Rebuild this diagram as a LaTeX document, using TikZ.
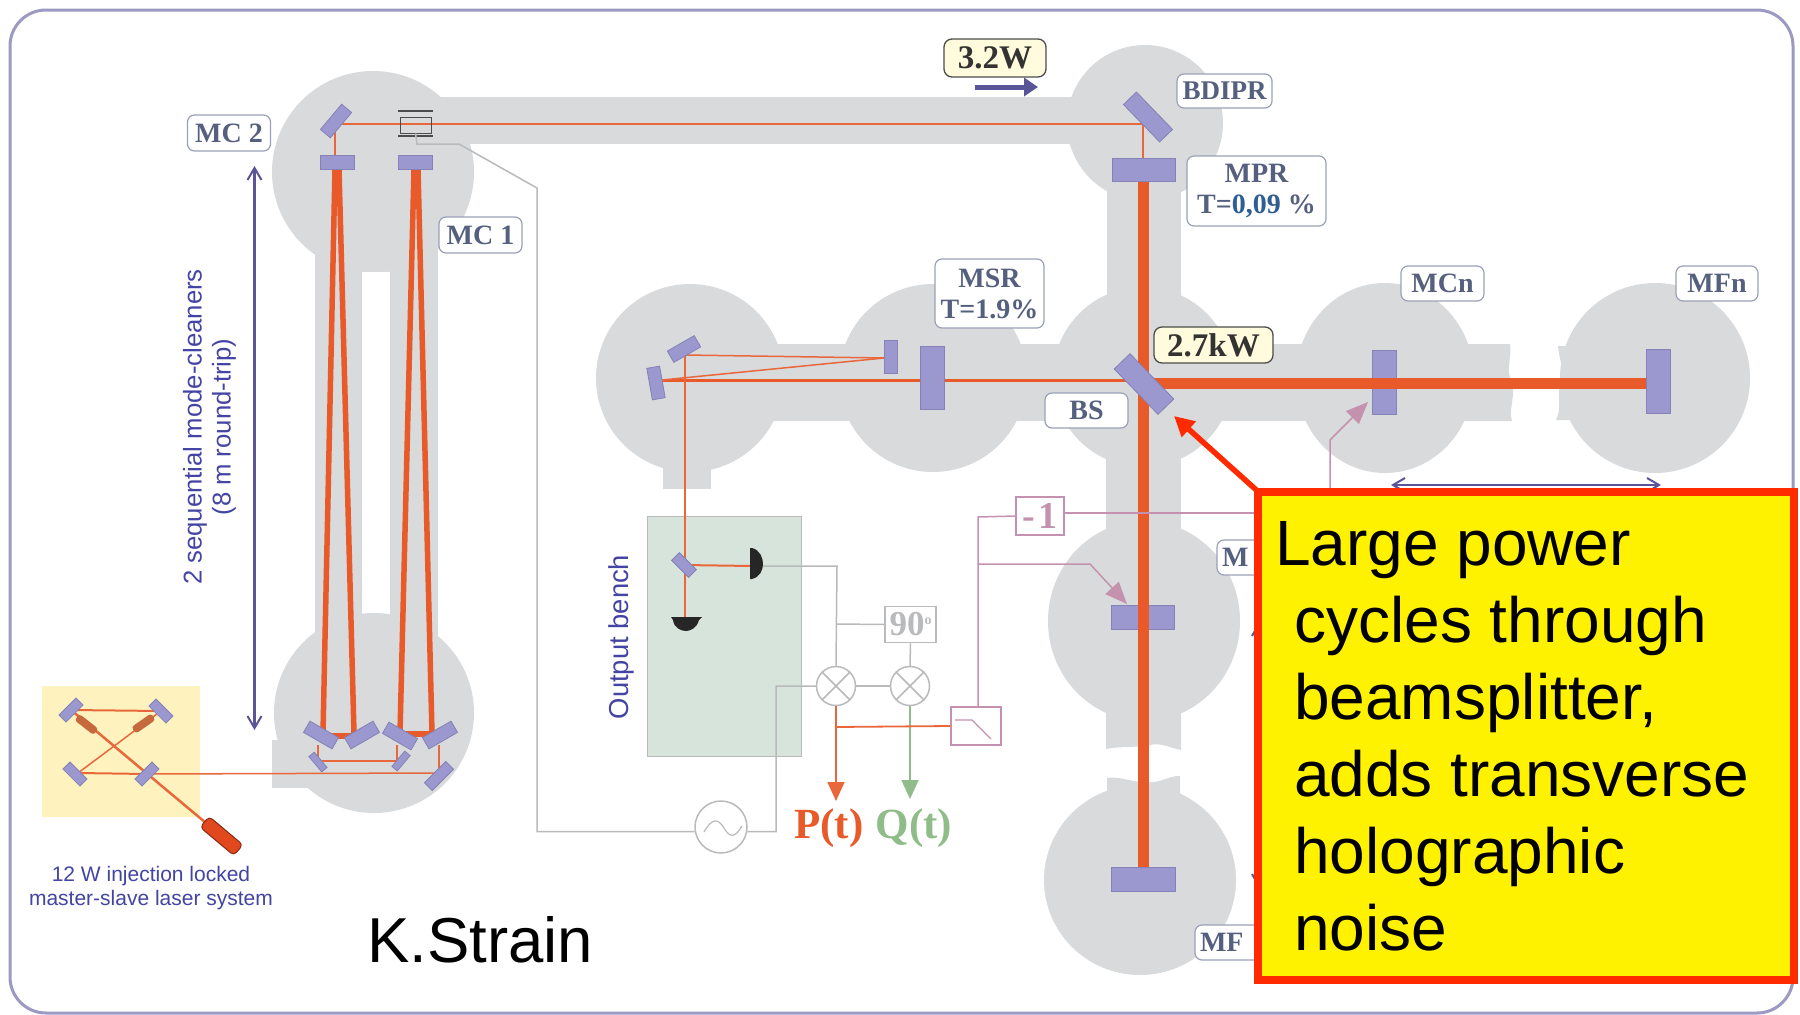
\documentclass[tikz,border=0pt]{standalone}
\usepackage{fontspec}
\setmainfont{Liberation Sans}
\newfontfamily\lab[Ligatures=TeX]{Liberation Serif}
\usetikzlibrary{arrows.meta,shapes.geometric}
\pgfdeclarelayer{blob}\pgfdeclarelayer{low}\pgfdeclarelayer{beam}
\pgfsetlayers{blob,low,beam,main}
\definecolor{pipegrey}{HTML}{D8DADC}
\definecolor{mirrorc}{HTML}{9A98CE}
\definecolor{mirrord}{HTML}{8482B6}
\definecolor{beamc}{HTML}{E85A2A}
\definecolor{labt}{HTML}{55607F}
\definecolor{labd}{HTML}{9AA0B8}
\definecolor{framec}{HTML}{9C9AC2}
\definecolor{purp}{HTML}{5A5599}
\definecolor{bluet}{HTML}{4444A4}
\definecolor{pinkc}{HTML}{C492AE}
\definecolor{greyl}{HTML}{B8BABC}
\definecolor{greenl}{HTML}{8FBC88}
\definecolor{redl}{HTML}{E8683C}
\definecolor{calred}{HTML}{FF2A00}
\definecolor{benchc}{HTML}{D6E4DC}
\definecolor{tablec}{HTML}{FEF3BE}
\definecolor{pwrfill}{HTML}{FFFBDC}
\definecolor{brownc}{HTML}{C66A3E}
\definecolor{laserc}{HTML}{E2481E}
\definecolor{numblue}{HTML}{2F5E93}
\tikzset{
  x=1pt,y=-1pt,
  fs/.style={font=\fontsize{#1}{#1}\selectfont},
  mir/.style n args={2}{draw=mirrord,fill=mirrorc,line width=0.8,inner sep=0,minimum width=#1,minimum height=#2},
  lbl/.style n args={2}{draw=labd,line width=1.2,rounded corners=7,fill=white,text=labt,inner sep=0,minimum width=#1,minimum height=#2,align=center,font=\lab\bfseries\fontsize{28}{31}\selectfont},
  pwr/.style n args={2}{draw=black!70,line width=1.3,rounded corners=8,fill=pwrfill,text=black!80,inner sep=0,minimum width=#1,minimum height=#2,font=\lab\bfseries\fontsize{33}{33}\selectfont},
  beamT/.style={draw=beamc,line width=11},
  beamL/.style={draw=beamc,line width=5.5},
  beamM/.style={draw=beamc,line width=3},
  beamS/.style={draw=redl,line width=1.5},
  sig/.style={draw=greyl,line width=1.5},
  pnk/.style={draw=pinkc,line width=1.5},
  sbox/.style={draw=#1,line width=1.5,fill=white,inner sep=0},
  mixer/.style={circle,draw=greyl,line width=1.5,fill=white,minimum size=39,inner sep=0},
  dim/.style={draw=purp,line width=2.2,{Straight Barb[length=12,width=14,line width=2]}-{Straight Barb[length=12,width=14,line width=2]}},
  btext/.style={text=bluet,align=center,inner sep=0},
  bighead/.style={-{Stealth[length=19,width=17,inset=0]}},
}
\begin{document}
\begin{tikzpicture}
\useasboundingbox (0,0) rectangle (1800,1015);

% ---------- grey vacuum system
\begin{pgfonlayer}{blob}
\fill[white] (0,0) rectangle (1800,1015);
\draw[framec,line width=3,rounded corners=36] (10,10) rectangle (1793,1013);
\fill[pipegrey] (373,172) circle[radius=101];
\fill[pipegrey] (374,713) circle[radius=100];
\fill[pipegrey] (315,240) rectangle (362,640);
\fill[pipegrey] (390,240) rectangle (438,640);
\fill[white] (362,272) rectangle (390,613);
\fill[pipegrey] (272,740) rectangle (320,788);
\fill[pipegrey] (430,97) rectangle (1120,144);
\fill[pipegrey] (1145,123) circle[radius=78];
\fill[pipegrey] (1107,170) rectangle (1181,300);
\fill[pipegrey] (1143,377) circle[radius=90];
\fill[pipegrey] (690,378) circle[radius=94];
\fill[pipegrey] (663,440) rectangle (711,489);
\fill[pipegrey] (933,378) circle[radius=94];
\fill[pipegrey] (700,344) rectangle (1385,421);
\fill[pipegrey] (1385,378) ellipse[x radius=89,y radius=95];
\fill[pipegrey] (1380,344) -- (1510,344) .. controls (1512,360) and (1505,370) .. (1512,382)
   .. controls (1516,395) and (1508,410) .. (1512,421) -- (1380,421) -- cycle;
\fill[pipegrey] (1655,378) ellipse[x radius=95,y radius=95];
\fill[pipegrey] (1660,346) -- (1558,346) .. controls (1560,365) and (1566,372) .. (1560,385)
   .. controls (1557,400) and (1562,408) .. (1556,420) -- (1660,420) -- cycle;
\fill[pipegrey] (1144,621) ellipse[x radius=96,y radius=100];
\fill[pipegrey] (1106,440) rectangle (1181,560);
\fill[pipegrey] (1106,680) -- (1181,680) -- (1181,750) .. controls (1170,748) and (1160,742) .. (1150,745)
   .. controls (1135,748) and (1120,746) .. (1106,749) -- cycle;
\fill[pipegrey] (1140,880) ellipse[x radius=96,y radius=95];
\fill[pipegrey] (1107,860) -- (1107,778) .. controls (1120,776) and (1130,782) .. (1145,782)
   .. controls (1160,784) and (1170,775) .. (1180,776) -- (1180,860) -- cycle;
\fill[tablec] (42,686) rectangle (200,817);
\end{pgfonlayer}

% ---------- output bench, and the mirrors that the beam crosses on top
\begin{pgfonlayer}{low}
\node[draw=greyl,line width=1,fill=benchc,inner sep=0,minimum width=154,minimum height=240] (bench) at (724,636) {};
\node[mir={24}{64}] (mcn) at (1384,382) {};
\node[mir={63}{24}] (mce) at (1143,617) {};
\end{pgfonlayer}

% ---------- mirrors
\node[mir={33}{13},rotate=50] (mc2t) at (336,121) {};
\node[mir={34}{14}] (mc2l) at (337,162) {};
\node[mir={34}{14}] (mc1r) at (415,162) {};
\node[mir={33}{13},rotate=-30] (ba) at (321,735) {};
\node[mir={33}{13},rotate=30] (bb) at (362,735) {};
\node[mir={33}{13},rotate=-30] (bc) at (400,736) {};
\node[mir={33}{13},rotate=30] (bd) at (440,735) {};
\node[mir={20}{7},rotate=-50] (se) at (318,762) {};
\node[mir={20}{7},rotate=50] (sf) at (401,761) {};
\node[mir={30}{11},rotate=45] (sg) at (439,776) {};
\node[mir={24}{10},rotate=45] (tl) at (71,710) {};
\node[mir={24}{10},rotate=-45] (tr) at (161,711) {};
\node[mir={24}{10},rotate=-45] (bl) at (75,774) {};
\node[mir={24}{10},rotate=45] (br) at (147,774) {};
\node[mir={52}{18},rotate=-46] (bdipr) at (1148,117) {};
\node[mir={63}{23}] (mpr) at (1143.5,170) {};
\node[mir={63}{22},rotate=-46] (bs) at (1144,384) {};
\node[mir={24}{63}] (msr) at (932,378) {};
\node[mir={13}{33}] (omc) at (890.5,357) {};
\node[mir={31}{13},rotate=30] (omu) at (684,349) {};
\node[mir={13}{32},rotate=10] (oml) at (656,383) {};
\node[mir={24}{11},rotate=-45] (obm) at (684,565) {};
\node[mir={24}{64}] (mfn) at (1658,381) {};
\node[mir={64}{24}] (mfe) at (1143.5,879) {};

% ---------- detectors
\coordinate (detr) at (752,566);
\coordinate (detb) at (685,617);
\fill[black!85] (750,548) -- (752,548) .. controls (760,550) and (763,558) .. (763,564)
   .. controls (763,570) and (760,577) .. (752,579) -- (750,579) -- cycle;
\fill[black!85] (671,617) -- (702,617) -- (699,620) .. controls (697,628) and (690,631) .. (686,631)
   .. controls (681,631) and (674,628) .. (673,620) -- cycle;

% ---------- beams
\begin{pgfonlayer}{beam}
\coordinate (mfni) at (1646,383);
\coordinate (bsh) at (1144,383);
\draw[beamT] (mpr.south) -- (mfe.north);
\draw[beamT] (bsh) -- (mfni);
\coordinate (mc2b) at (340,124);\coordinate (bdb) at (1143,124);
\draw[beamS] (mc2b) -- (bdb);
\draw[beamS] (335,128) -- (335,155);
\draw[beamS] (bdb) -- (1143,159);
\coordinate (msre) at (944,380);\coordinate (bsw) at (1132,380);\coordinate (msrw) at (920,380);
\draw[beamM] (msre) -- (bsw);
\coordinate (omlr) at (662,380);
\draw[beamM] (omlr) -- (msrw);
\coordinate (omct) at (884,358);\coordinate (omub) at (685,355);
\draw[beamS] (omlr) -- (omct);
\draw[beamS] (omub) -- (omct);
\draw[beamS] (omub) -- (detb);
\draw[beamS,line width=2] (obm.center) -- (detr);
\coordinate (apexa) at (335,169);\coordinate (apexb) at (339,169);
\coordinate (apexc) at (414,169);\coordinate (apexd) at (418,169);
\draw[beamL] (apexa) -- (323,733);
\draw[beamL] (apexb) -- (354,733);
\draw[beamL] (apexc) -- (400,733);
\draw[beamL] (apexd) -- (432,733);
\draw[beamL] (323,736) -- (354,736);
\draw[beamL] (400,734) -- (432,734);
\draw[beamS,line width=2] (318,745) -- (318,761) -- (397,761) -- (397,745);
\draw[beamS,line width=2] (439,745) -- (439,773);
\coordinate (inpt) at (439,773);
\draw[beamS] (br.center) -- (inpt);
\coordinate (bli) at (78,773);
\draw[beamS,line width=2] (bli) -- (br.center);
\draw[beamS,line width=2] (tl.center) -- (tr.center);
\draw[beamS] (bli) -- (tr.center);
\coordinate (lasertop) at (206,823);
\draw[beamS,line width=2.5] (tl.center) -- (lasertop);
\end{pgfonlayer}

% laser and crystals
\node[draw=black!40!laserc,line width=1,fill=laserc,rounded corners=4,inner sep=0,minimum width=44,minimum height=14,rotate=-40] (laser) at (221.5,836) {};
\node[draw=none,fill=brownc,rounded corners=3,inner sep=0,minimum width=24,minimum height=8,rotate=-38] (cry1) at (86.5,724.5) {};
\node[draw=none,fill=brownc,rounded corners=3,inner sep=0,minimum width=24,minimum height=8,rotate=35] (cry2) at (143.5,723.5) {};

% isolator
\node[draw=black!70,line width=1,inner sep=0,minimum width=31,minimum height=16] (iso) at (415.5,125) {};
\coordinate (isoal) at (398,111);\coordinate (isoar) at (433,111);
\coordinate (isobl) at (398,136);\coordinate (isobr) at (433,136);
\draw[black!70,line width=1.2] (isoal) -- (isoar);
\draw[black!70,line width=1.2] (isobl) -- (isobr);

% ---------- electronics
\node[mixer] (mix1) at (836,686) {};
\node[mixer] (mix2) at (910,686) {};
\draw[sig] (mix1.45) -- (mix1.225);
\draw[sig] (mix1.135) -- (mix1.315);
\draw[sig] (mix2.45) -- (mix2.225);
\draw[sig] (mix2.135) -- (mix2.315);
\node[sbox=greyl,text=greyl,minimum width=51,minimum height=36,font=\lab\bfseries\fontsize{35}{35}\selectfont] (ph90) at (910.5,624.5) {90\raisebox{11pt}{\fontsize{14}{14}\selectfont o}};
\node[circle,draw=greyl,line width=1.5,fill=white,minimum size=52,inner sep=0] (osc) at (721,827) {};
\draw[greyl,line width=1.2] (704,832) .. controls (712,818) and (718,818) .. (724,828)
   .. controls (730,838) and (735,838) .. (742,826);
\draw[sig] (763,566) -- (837,566) -- (mix1.north);
\draw[sig] (837,624) -- (ph90.west);
\draw[sig] (ph90.south) -- (mix2.north);
\draw[sig] (mix1.east) -- (mix2.west);
\coordinate (osr) at (776,831.5);\coordinate (osl) at (537,831.5);
\draw[sig] (mix1.west) -- (776,686) -- (osr) -- (osc.-10);
\draw[sig] (osc.190) -- (osl) -- (537,188) -- (459,144) -- (417,144) -- (iso.south);
\node[sbox=pinkc,minimum width=50,minimum height=38] (filt) at (976,726) {};
\draw[pinkc,line width=1.2] (955,720) -- (972,720) -- (991,739);
\node[sbox=pinkc,text=pinkc,minimum width=48,minimum height=38,font=\lab\bfseries\fontsize{38}{38}\selectfont] (neg) at (1040,516) {-\hspace{3pt}1};
\coordinate (pink1) at (978,517);\coordinate (pink2) at (978,564);
\coordinate (rightend) at (1258,513);
\draw[pnk] (neg.east |- rightend) -- (rightend);
\draw[pnk] (neg.west) -- (pink1) -- (filt.north -| pink1);
\coordinate (mcetip) at (1127,604);\coordinate (mcntip) at (1368,402);
\draw[pnk,-{Stealth[length=22,width=18,inset=0]}] (pink2) -- (1090,564) -- (mcetip);
\draw[pnk,-{Stealth[length=22,width=18,inset=0]}] (1330,490) -- (1330,440) -- (mcntip);
\coordinate (pt) at (836,801);\coordinate (qt) at (910,799);
\draw[redl,line width=1.8,bighead] (mix1.south) -- (pt);
\draw[greenl,line width=1.8,bighead] (mix2.south) -- (qt);
\draw[redl,line width=1.8] (836,727) -- (filt.west);
\node[text=beamc,inner sep=0,font=\lab\bfseries\fontsize{43}{43}\selectfont] (ptl) at (829,828) {P(t)};
\node[text=greenl,inner sep=0,font=\lab\bfseries\fontsize{43}{43}\selectfont] (qtl) at (914,828) {Q(t)};

% ---------- labels
\node[lbl={83}{36}] (lmc2) at (229,133) {MC 2};
\node[lbl={83}{36}] (lmc1) at (480.5,235) {MC 1};
\node[lbl={109}{69}] (lmsr) at (989.5,293.5) {MSR\\T=1.9\%};
\node[lbl={83}{35}] (lbs) at (1086.5,410.5) {BS};
\node[lbl={95}{34},font=\lab\bfseries\fontsize{27}{27}\selectfont] (lbd) at (1224.5,91) {BDIPR};
\node[lbl={139}{70}] (lmpr) at (1256.5,191) {MPR\\T=\textcolor{numblue}{0,09} \%};
\node[lbl={83}{35}] (lmcn) at (1442.5,283.5) {MCn};
\node[lbl={82}{35}] (lmfn) at (1717,283.5) {MFn};
\node[pwr={102}{38}] (p32) at (995,58) {3.2W};
\node[pwr={119}{36}] (p27) at (1213.5,345) {2.7kW};
\node[lbl={80}{35},text width=70,align=left] (lmce) at (1257,557.5) {M};
\node[lbl={80}{35},text width=70,align=left] (lmfe) at (1235,942.5) {MF};

% ---------- dimensions and captions
\coordinate (dima) at (254.5,166);\coordinate (dimb) at (254.5,730);
\draw[dim] (dima) -- (dimb);
\coordinate (dimc) at (1391,485);\coordinate (dimd) at (1661,485);
\draw[dim] (dimc) -- (dimd);
\coordinate (dime) at (1259,622);\coordinate (dimf) at (1259,888);
\draw[dim] (dime) -- (dimf);
\coordinate (pfa) at (975,87);\coordinate (pfb) at (1038,87);
\draw[purp,line width=5,-{Stealth[length=14,width=18,inset=0]}] (pfa) -- (pfb);
\node[btext,rotate=90,fs=25.7] (ltxt) at (195,427) {2 sequential mode-cleaners};
\node[btext,rotate=90,fs=25.7] (ltxb) at (224,427) {(8 m round-trip)};
\node[btext,rotate=90,fs=27.4] (obt) at (621,637) {Output bench};
\node[btext,fs=21] (l12a) at (151,876) {12 W injection locked};
\node[btext,fs=21] (l12b) at (151,900) {master-slave laser system};
\node[anchor=base west,inner sep=0,fs=63.5,text=black] (ks) at (367,962) {K.Strain};

% ---------- callout
\node[draw=calred,line width=8,fill=yellow,inner sep=0,outer sep=0,minimum width=536,minimum height=488,anchor=north west] (callout) at (1258,491.5) {};
\coordinate (tip) at (1174,416);
\draw[calred,line width=5.5,-{Stealth[length=20,width=20,inset=0]}] (callout.north west) -- (tip);
\node[anchor=north west,inner sep=0,align=left,text=black,font=\fontsize{64}{77}\selectfont] (ctext) at (1275,521)
  {Large power\\\hspace*{19pt}cycles through\\\hspace*{19pt}beamsplitter,\\\hspace*{19pt}adds transverse\\\hspace*{19pt}holographic\\\hspace*{19pt}noise};
\end{tikzpicture}
\end{document}
